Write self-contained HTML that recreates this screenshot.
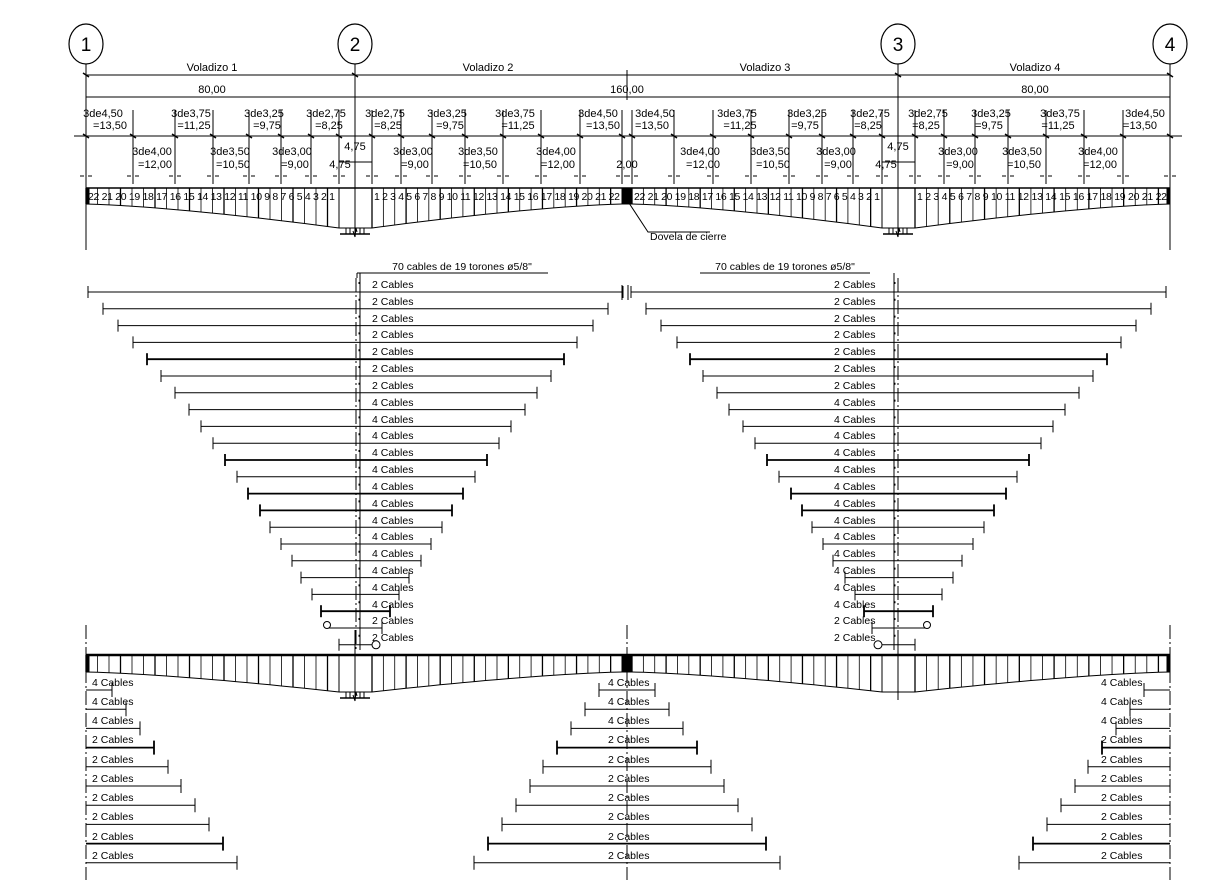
<!DOCTYPE html>
<html><head><meta charset="utf-8"><style>
html,body{margin:0;padding:0;background:#fff;}
svg{display:block;}
text{font-family:"Liberation Sans",sans-serif;fill:#000;}
.t{font-size:11px;}
.s{font-size:10.5px;}
</style></head><body>
<svg id="d" width="1208" height="883" viewBox="0 0 1208 883" xmlns="http://www.w3.org/2000/svg">
<g id="g" stroke="#000" stroke-width="1" fill="none"></g>
<g stroke="#000" fill="#fff" stroke-width="1.2">
<ellipse cx="86" cy="44" rx="17" ry="20"/><ellipse cx="355" cy="44" rx="17" ry="20"/>
<ellipse cx="898" cy="44" rx="17" ry="20"/><ellipse cx="1170" cy="44" rx="17" ry="20"/>
</g>
<g style="font-size:19px" text-anchor="middle">
<text x="86" y="51">1</text><text x="355" y="51">2</text><text x="898" y="51">3</text><text x="1170" y="51">4</text>
</g>
<g class="t" text-anchor="middle">
<text x="212" y="71">Voladizo 1</text><text x="488" y="71">Voladizo 2</text>
<text x="765" y="71">Voladizo 3</text><text x="1035" y="71">Voladizo 4</text>
<text x="212" y="93">80,00</text><text x="627" y="93">160,00</text><text x="1035" y="93">80,00</text>
<text x="103" y="117">3de4,50</text><text x="110" y="129">=13,50</text>
<text x="191" y="117">3de3,75</text><text x="194" y="129">=11,25</text>
<text x="264" y="117">3de3,25</text><text x="267" y="129">=9,75</text>
<text x="326" y="117">3de2,75</text><text x="329" y="129">=8,25</text>
<text x="385" y="117">3de2,75</text><text x="388" y="129">=8,25</text>
<text x="447" y="117">3de3,25</text><text x="450" y="129">=9,75</text>
<text x="515" y="117">3de3,75</text><text x="518" y="129">=11,25</text>
<text x="598" y="117">3de4,50</text><text x="603" y="129">=13,50</text>
<text x="655" y="117">3de4,50</text><text x="652" y="129">=13,50</text>
<text x="737" y="117">3de3,75</text><text x="740" y="129">=11,25</text>
<text x="807" y="117">3de3,25</text><text x="805" y="129">=9,75</text>
<text x="870" y="117">3de2,75</text><text x="868" y="129">=8,25</text>
<text x="928" y="117">3de2,75</text><text x="926" y="129">=8,25</text>
<text x="991" y="117">3de3,25</text><text x="989" y="129">=9,75</text>
<text x="1060" y="117">3de3,75</text><text x="1058" y="129">=11,25</text>
<text x="1145" y="117">3de4,50</text><text x="1140" y="129">=13,50</text>
<text x="152" y="155">3de4,00</text><text x="155" y="168">=12,00</text>
<text x="230" y="155">3de3,50</text><text x="233" y="168">=10,50</text>
<text x="292" y="155">3de3,00</text><text x="295" y="168">=9,00</text>
<text x="355" y="150">4,75</text><text x="340" y="168">4,75</text>
<text x="413" y="155">3de3,00</text><text x="415" y="168">=9,00</text>
<text x="478" y="155">3de3,50</text><text x="480" y="168">=10,50</text>
<text x="556" y="155">3de4,00</text><text x="558" y="168">=12,00</text>
<text x="627" y="168">2,00</text>
<text x="700" y="155">3de4,00</text><text x="703" y="168">=12,00</text>
<text x="770" y="155">3de3,50</text><text x="773" y="168">=10,50</text>
<text x="836" y="155">3de3,00</text><text x="838" y="168">=9,00</text>
<text x="898" y="150">4,75</text><text x="886" y="168">4,75</text>
<text x="958" y="155">3de3,00</text><text x="960" y="168">=9,00</text>
<text x="1022" y="155">3de3,50</text><text x="1024" y="168">=10,50</text>
<text x="1098" y="155">3de4,00</text><text x="1100" y="168">=12,00</text>
</g>
<g class="s">
<text x="88" y="200" textLength="247" lengthAdjust="spacing">22 21 20 19 18 17 16 15 14 13 12 11 10 9 8 7 6 5 4 3 2 1</text>
<text x="374" y="200" textLength="246" lengthAdjust="spacing">1 2 3 4 5 6 7 8 9 10 11 12 13 14 15 16 17 18 19 20 21 22</text>
<text x="634" y="200" textLength="246" lengthAdjust="spacing">22 21 20 19 18 17 16 15 14 13 12 11 10 9 8 7 6 5 4 3 2 1</text>
<text x="917" y="200" textLength="250" lengthAdjust="spacing">1 2 3 4 5 6 7 8 9 10 11 12 13 14 15 16 17 18 19 20 21 22</text>
<text x="650" y="240">Dovela de cierre</text>
</g>
<g class="s" text-anchor="middle">
<text x="462" y="270">70 cables de 19 torones ø5/8"</text>
<text x="785" y="270">70 cables de 19 torones ø5/8"</text>
</g>
<g class="s">
<text x="372" y="288">2 Cables</text><text x="372" y="305">2 Cables</text><text x="372" y="322">2 Cables</text><text x="372" y="338">2 Cables</text><text x="372" y="355">2 Cables</text><text x="372" y="372">2 Cables</text><text x="372" y="389">2 Cables</text><text x="372" y="406">4 Cables</text><text x="372" y="423">4 Cables</text><text x="372" y="439">4 Cables</text><text x="372" y="456">4 Cables</text><text x="372" y="473">4 Cables</text><text x="372" y="490">4 Cables</text><text x="372" y="507">4 Cables</text><text x="372" y="524">4 Cables</text><text x="372" y="540">4 Cables</text><text x="372" y="557">4 Cables</text><text x="372" y="574">4 Cables</text><text x="372" y="591">4 Cables</text><text x="372" y="608">4 Cables</text><text x="372" y="624">2 Cables</text><text x="372" y="641">2 Cables</text>
</g>
<g class="s">
<text x="834" y="288">2 Cables</text><text x="834" y="305">2 Cables</text><text x="834" y="322">2 Cables</text><text x="834" y="338">2 Cables</text><text x="834" y="355">2 Cables</text><text x="834" y="372">2 Cables</text><text x="834" y="389">2 Cables</text><text x="834" y="406">4 Cables</text><text x="834" y="423">4 Cables</text><text x="834" y="439">4 Cables</text><text x="834" y="456">4 Cables</text><text x="834" y="473">4 Cables</text><text x="834" y="490">4 Cables</text><text x="834" y="507">4 Cables</text><text x="834" y="524">4 Cables</text><text x="834" y="540">4 Cables</text><text x="834" y="557">4 Cables</text><text x="834" y="574">4 Cables</text><text x="834" y="591">4 Cables</text><text x="834" y="608">4 Cables</text><text x="834" y="624">2 Cables</text><text x="834" y="641">2 Cables</text>
</g>
<g class="s">
<text x="92" y="686">4 Cables</text><text x="92" y="705">4 Cables</text><text x="92" y="724">4 Cables</text><text x="92" y="743">2 Cables</text><text x="92" y="763">2 Cables</text><text x="92" y="782">2 Cables</text><text x="92" y="801">2 Cables</text><text x="92" y="820">2 Cables</text><text x="92" y="840">2 Cables</text><text x="92" y="859">2 Cables</text>
<text x="608" y="686">4 Cables</text><text x="608" y="705">4 Cables</text><text x="608" y="724">4 Cables</text><text x="608" y="743">2 Cables</text><text x="608" y="763">2 Cables</text><text x="608" y="782">2 Cables</text><text x="608" y="801">2 Cables</text><text x="608" y="820">2 Cables</text><text x="608" y="840">2 Cables</text><text x="608" y="859">2 Cables</text>
<text x="1101" y="686">4 Cables</text><text x="1101" y="705">4 Cables</text><text x="1101" y="724">4 Cables</text><text x="1101" y="743">2 Cables</text><text x="1101" y="763">2 Cables</text><text x="1101" y="782">2 Cables</text><text x="1101" y="801">2 Cables</text><text x="1101" y="820">2 Cables</text><text x="1101" y="840">2 Cables</text><text x="1101" y="859">2 Cables</text>
</g>
</svg>
<script>
(function(){
var g=document.getElementById('g'),NS='http://www.w3.org/2000/svg';
function el(n,a){var e=document.createElementNS(NS,n);for(var k in a)e.setAttribute(k,a[k]);g.appendChild(e);return e;}
function L(x1,y1,x2,y2,w,da){var a={x1:x1,y1:y1,x2:x2,y2:y2};if(w)a['stroke-width']=w;if(da)a['stroke-dasharray']=da;return el('line',a);}
var dd='14,3,2,3';
[86,355,898,1170].forEach(function(x){L(x,64,x,235,1);});
L(86,235,86,250,1);L(1170,235,1170,250,1);
L(86,75,1170,75);L(86,97,1170,97);
[86,355,898,1170].forEach(function(x){L(x-3,73,x+3,77,1.5);});
L(627,70,627,100);
L(74,136,1182,136);
var vb=[86,133,175,213,249,281,311,339,372,401,432,465,503,541,580,622,632,674,713,751,789,822,853,882,915,944,975,1008,1046,1084,1123,1170];
vb.forEach(function(x){L(x,110,x,184);L(x-3,134,x+3,138,1.5);L(x-6,176,x-2,176);L(x+2,176,x+6,176);});
L(339,162,372,162);L(882,162,915,162);
function beam(top,bEnd,bPier,thick){
 var spans=[[86,339,-1],[372,622,1],[632,882,-1],[915,1170,1]];
 spans.forEach(function(s){
  var a=s[0],b=s[1],n=22,w=(b-a)/n;
  var pts=[];
  for(var i=0;i<=n;i++){var x=a+i*w;var u=s[2]<0?(b-x)/(b-a):(x-a)/(b-a);var y=bEnd+(bPier-bEnd)*Math.pow(1-u,1.4);pts.push(x+','+y);L(x,top,x,y,(i%3==0)?1.3:0.8);}
  el('polyline',{points:pts.join(' ')});
 });
 [[339,372],[882,915]].forEach(function(p){L(p[0],top,p[0],bPier);L(p[1],top,p[1],bPier);L(p[0],bPier,p[1],bPier);});
 el('rect',{x:86,y:top,width:3,height:bEnd-top,fill:'#000'});
 el('rect',{x:1167,y:top,width:3,height:bEnd-top,fill:'#000'});
 el('rect',{x:622,y:top,width:10,height:bEnd-top,fill:'#000'});
 L(86,top,1170,top,thick);
}
beam(188,204,228,1.5);
beam(655,672,692,2.5);
function pier(x,y){L(x-12,y,x+12,y);L(x-15,y+6,x+15,y+6,1.5);L(x-9,y,x-9,y+6);L(x-5,y,x-5,y+6);L(x+5,y,x+5,y+6);L(x+9,y,x+9,y+6);el('polyline',{points:(x-2)+','+(y+3)+' '+x+','+(y+9)+' '+(x+1)+','+(y)+' '+(x+2)+','+(y+4)});}
pier(355,228);pier(898,228);pier(355,692);
el('polyline',{points:'627,200 648,232 710,232'});
L(357,273,548,273);L(700,273,870,273);L(360,273,360,650);L(357,273,357,278);
L(894,273,894,650);
L(356,278,356,650,1,dd);L(898,278,898,650,1,dd);
L(622,285,622,300);L(628,285,628,300);
var Lx=[88,103,118,133,147,161,175,189,201,213,225,237,248,260,270,281,292,301,312,321,327,339];
var Rx=[623,608,593,577,564,551,537,525,511,499,487,475,463,452,442,431,421,409,399,390,382,376];
var heavy={4:1,10:1,12:1,13:1,19:1};
for(var i=0;i<22;i++){
 var y=292+16.8*i,w=heavy[i]?1.8:1;
 [[0,1],[1254,-1]].forEach(function(m){
  function X(x){return m[0]+m[1]*x;}
  var a=Lx[i],b=Rx[i];
  L(X(a),y,X(b),y,w);
  if(i!=20)L(X(a),y-6,X(a),y+6,w);else el('circle',{cx:X(a),cy:y-3,r:3.5,fill:'#fff'});
  if(i!=21)L(X(b),y-6,X(b),y+6,w);else el('circle',{cx:X(b),cy:y,r:4,fill:'#fff'});
  L(X(359),y-10,X(359),y-8);
 });
}
L(86,625,86,880,1,dd);L(1170,625,1170,880,1,dd);L(627,625,627,880,1,dd);L(355,630,355,700,1);L(898,630,898,700,1);
var E=[112,126,140,154,168,181,195,209,223,237];
for(var j=0;j<10;j++){
 var y=690+19.2*j,d=E[j]-86,w=(j==3||j==8)?1.8:1;
 L(86,y,E[j],y,w);L(E[j],y-7,E[j],y+7,w);
 L(627-d-2,y,627+d+2,y,w);L(627-d-2,y-7,627-d-2,y+7,w);L(627+d+2,y-7,627+d+2,y+7,w);
 L(1170-d,y,1170,y,w);L(1170-d,y-7,1170-d,y+7,w);
}
})();
</script>
</body></html>
